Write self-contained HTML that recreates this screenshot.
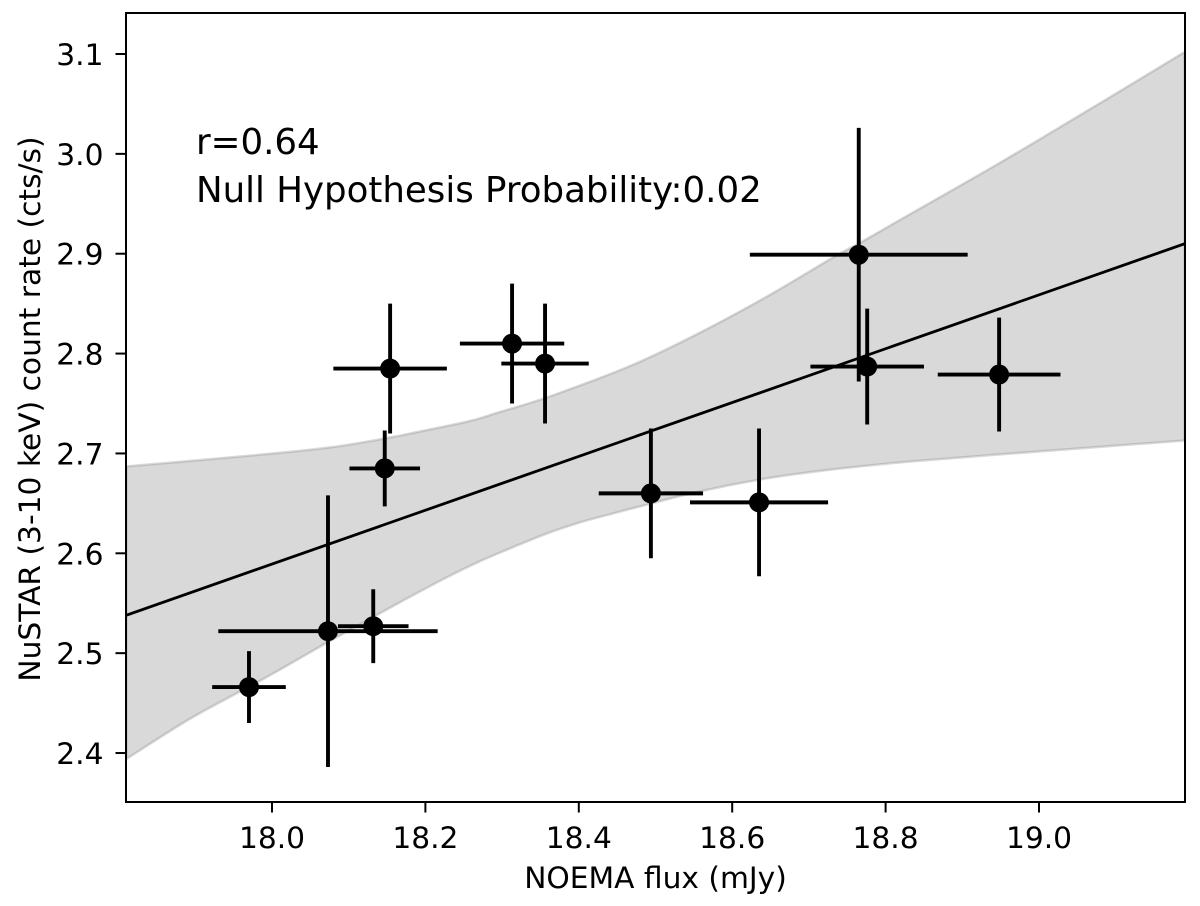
<!DOCTYPE html>
<html lang="en">
<head>
<meta charset="utf-8">
<title>NuSTAR count rate vs NOEMA flux</title>
<style>
html,body{margin:0;padding:0;background:#fff;}
svg{display:block;}
text{font-family:"DejaVu Sans","Liberation Sans",sans-serif;fill:#000;}
</style>
</head>
<body>
<svg id="chart" xmlns="http://www.w3.org/2000/svg" width="1200" height="906" viewBox="0 0 1200 906">
  <defs><clipPath id="plot-clip"><rect x="126" y="13" width="1059" height="789"/></clipPath></defs>
  <rect x="0" y="0" width="1200" height="906" fill="#fff"/>
  <g id="marks" clip-path="url(#plot-clip)"></g>
  <g id="xticks"></g>
  <g id="yticks"></g>
  <rect x="126" y="13" width="1059" height="789" fill="none" stroke="#000" stroke-width="2"/>
  <text x="655.5" y="888" font-size="29.7" text-anchor="middle">NOEMA flux (mJy)</text>
  <text transform="translate(40,409) rotate(-90)" font-size="29.7" text-anchor="middle">NuSTAR (3-10 keV) count rate (cts/s)</text>
  <text x="196" y="154" font-size="35.6">r=0.64</text>
  <text x="196" y="202" font-size="35.6">Null Hypothesis Probability:0.02</text>
</svg>
<script>
const xValues = [17.970, 18.073, 18.132, 18.147, 18.154, 18.313, 18.356, 18.494, 18.635, 18.765, 18.776, 18.948];
const yValues = [2.466, 2.522, 2.527, 2.685, 2.785, 2.810, 2.790, 2.660, 2.651, 2.899, 2.787, 2.779];
const xErrors = [0.048, 0.143, 0.046, 0.046, 0.074, 0.068, 0.057, 0.068, 0.090, 0.142, 0.074, 0.080];
const yErrors = [0.036, 0.136, 0.037, 0.038, 0.065, 0.060, 0.060, 0.065, 0.074, 0.127, 0.058, 0.057];
const fitX = [17.81, 19.19];
const fitY = [2.538, 2.910];
const bandUpperX = [17.81, 17.975, 18.076, 18.154, 18.193, 18.258, 18.297, 18.362, 18.471, 18.558, 18.645, 18.731, 18.767, 18.819, 18.949, 19.08, 19.19];
const bandUpperY = [2.687, 2.698, 2.706, 2.716, 2.722, 2.7325, 2.7415, 2.757, 2.789, 2.821, 2.857, 2.896, 2.911, 2.934, 2.991, 3.051, 3.102];
const bandLowerX = [17.81, 17.867, 17.906, 17.993, 18.059, 18.115, 18.167, 18.228, 18.271, 18.314, 18.359, 18.402, 18.445, 18.480, 18.558, 18.645, 18.731, 18.819, 18.949, 19.19];
const bandLowerY = [2.394, 2.422, 2.440, 2.476, 2.505, 2.529, 2.551, 2.576, 2.592, 2.606, 2.620, 2.631, 2.640, 2.647, 2.662, 2.675, 2.684, 2.691, 2.699, 2.713];
const xTickValues = [18.0, 18.2, 18.4, 18.6, 18.8, 19.0];
const yTickValues = [2.4, 2.5, 2.6, 2.7, 2.8, 2.9, 3.0, 3.1];

function sx(v){ return 272 + (v - 18.0) * 767; }
function sy(v){ return 54 + (3.1 - v) * 998.6; }
const NS = 'http://www.w3.org/2000/svg';
function make(tag, parent, attrs){
  const el = document.createElementNS(NS, tag);
  for (const k in attrs) el.setAttribute(k, attrs[k]);
  parent.appendChild(el);
  return el;
}
/* Smooth curve through the mapped band vertices (Catmull-Rom to cubic Bezier). */
function smoothSegments(xs, ys){
  const p = xs.map((x, i) => [sx(x), sy(ys[i])]);
  let d = '';
  for (let i = 0; i < p.length - 1; i++) {
    const a = p[Math.max(i - 1, 0)], b = p[i], c = p[i + 1], e = p[Math.min(i + 2, p.length - 1)];
    const c1x = b[0] + (c[0] - a[0]) / 6, c1y = b[1] + (c[1] - a[1]) / 6;
    const c2x = c[0] - (e[0] - b[0]) / 6, c2y = c[1] - (e[1] - b[1]) / 6;
    d += ' C' + c1x.toFixed(1) + ' ' + c1y.toFixed(1) + ' ' + c2x.toFixed(1) + ' ' + c2y.toFixed(1) + ' ' + c[0].toFixed(1) + ' ' + c[1].toFixed(1);
  }
  return d;
}
const marks = document.getElementById('marks');
const xticks = document.getElementById('xticks');
const yticks = document.getElementById('yticks');

const upperPath = 'M' + sx(bandUpperX[0]).toFixed(1) + ' ' + sy(bandUpperY[0]).toFixed(1) + smoothSegments(bandUpperX, bandUpperY);
const lastLower = bandLowerX.length - 1;
const lowerPath = ' L' + sx(bandLowerX[lastLower]).toFixed(1) + ' ' + sy(bandLowerY[lastLower]).toFixed(1) + smoothSegments(bandLowerX.slice().reverse(), bandLowerY.slice().reverse()) + ' Z';
const band = make('path', marks, {d: upperPath + lowerPath, fill: 'rgb(128,128,128)', 'fill-opacity': 0.3, stroke: 'rgb(128,128,128)', 'stroke-opacity': 0.3, 'stroke-width': 2.5});



const fit = make('line', marks, {x1: sx(fitX[0]), y1: sy(fitY[0]), x2: sx(fitX[1]), y2: sy(fitY[1]), stroke: '#000', 'stroke-width': 2.8});



xValues.forEach((x, i) => {
  const y = yValues[i];
  const h = make('line', marks, {x1: sx(x - xErrors[i]), y1: sy(y), x2: sx(x + xErrors[i]), y2: sy(y), stroke: '#000', 'stroke-width': 3.9});
  
  
  const v = make('line', marks, {x1: sx(x), y1: sy(y - yErrors[i]), x2: sx(x), y2: sy(y + yErrors[i]), stroke: '#000', 'stroke-width': 3.9});
  
  
  const c = make('circle', marks, {cx: sx(x), cy: sy(y), r: 10, fill: '#000'});
  
  
});

xTickValues.forEach(t => {
  const m = make('line', xticks, {x1: sx(t), y1: 802, x2: sx(t), y2: 812.5, stroke: '#000', 'stroke-width': 2});
  
  
  const l = make('text', xticks, {x: sx(t), y: 848, 'font-size': 29.7, 'text-anchor': 'middle'});
  
  
  l.textContent = t.toFixed(1);
});
yTickValues.forEach(t => {
  const m = make('line', yticks, {x1: 115.5, y1: sy(t), x2: 126, y2: sy(t), stroke: '#000', 'stroke-width': 2});
  
  
  const l = make('text', yticks, {x: 103.5, y: sy(t) + 11, 'font-size': 29.7, 'text-anchor': 'end'});
  
  
  l.textContent = t.toFixed(1);
});
</script>
</body>
</html>
